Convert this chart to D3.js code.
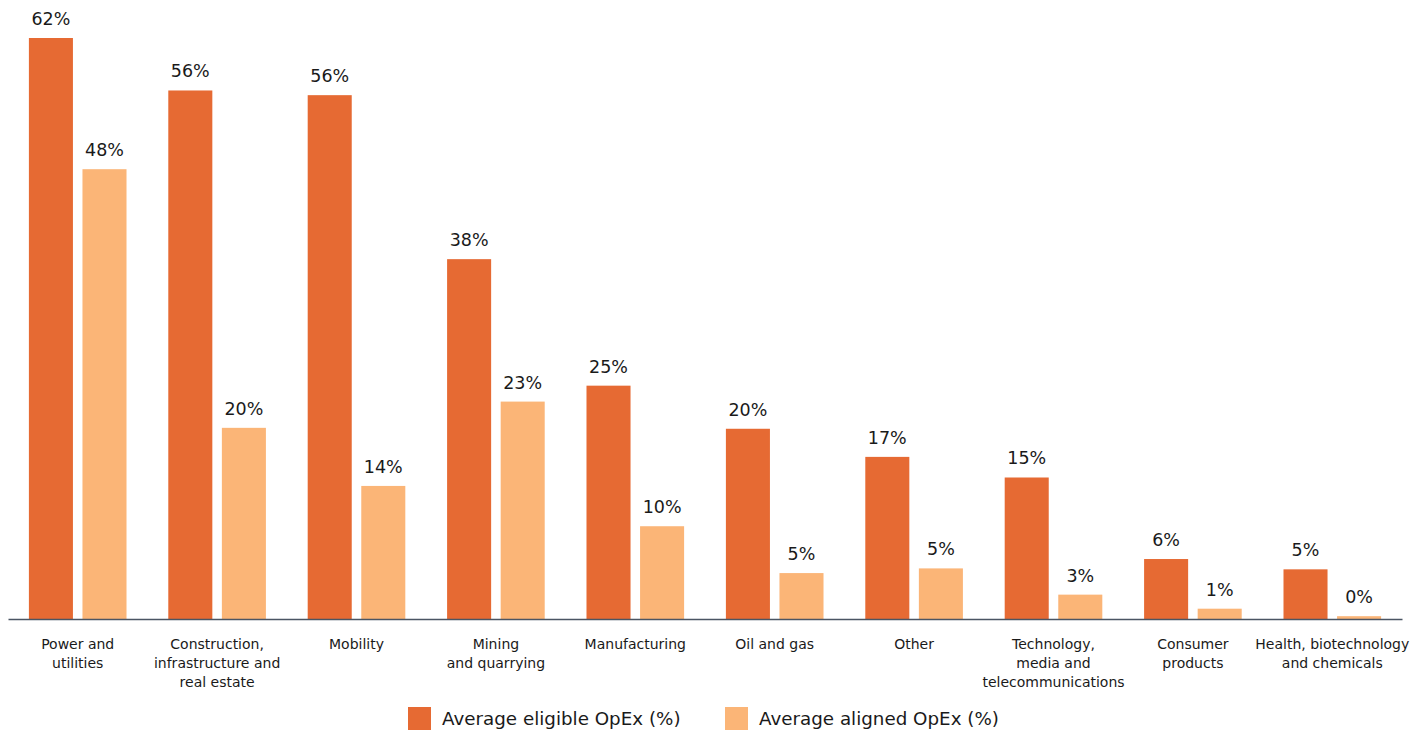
<!DOCTYPE html>
<html>
<head>
<meta charset="utf-8">
<script src="https://cdn.jsdelivr.net/npm/d3@7"></script>
<style>
  body { margin: 0; background: #fff; }
  svg { display: block; font-family: "DejaVu Sans", sans-serif; }
</style>
</head>
<body>
<div id="chart"></div>
<script>
// categories (line breaks as in the original labels)
var categories = [
  "Power and\nutilities",
  "Construction,\ninfrastructure and\nreal estate",
  "Mobility",
  "Mining\nand quarrying",
  "Manufacturing",
  "Oil and gas",
  "Other",
  "Technology,\nmedia and\ntelecommunications",
  "Consumer\nproducts",
  "Health, biotechnology\nand chemicals"
];
var eligible = [62, 56.4, 55.9, 38.4, 24.9, 20.3, 17.3, 15.1, 6.4, 5.3];
var aligned  = [48, 20.4, 14.2, 23.2, 9.9, 4.9, 5.4, 2.6, 1.1, 0.3];
var seriesNames = ["Average eligible OpEx (%)", "Average aligned OpEx (%)"];
var seriesColors = ["#e66a33", "#fbb577"];

var width = 1427, height = 736;
var baseY = 619;

var rows = categories.map((c, i) => ({cat: c, vals: [eligible[i], aligned[i]]}));

var svg = d3.select("#chart").append("svg")
    .attr("width", width)
    .attr("height", height);

var x0 = d3.scaleBand()
    .domain(categories)
    .range([8, 1402])
    .padding(0);

var x1 = d3.scaleBand()
    .domain([0, 1])
    .range([0, x0.bandwidth()])
    .paddingInner(0.178)
    .paddingOuter(0.39);

var y = d3.scaleLinear()
    .domain([0, 62])
    .range([baseY, 38]);

var fmt = v => d3.format(".0f")(v) + "%";

var groups = svg.append("g")
  .selectAll("g")
  .data(rows)
  .join("g")
    .attr("transform", d => `translate(${x0(d.cat)},0)`);

groups.selectAll("rect")
  .data(d => d.vals.map((v, k) => ({k: k, v: v})))
  .join("rect")
    .attr("x", d => x1(d.k))
    .attr("y", d => y(d.v))
    .attr("width", x1.bandwidth())
    .attr("height", d => baseY - y(d.v))
    .attr("fill", d => seriesColors[d.k]);

groups.selectAll("text.val")
  .data(d => d.vals.map((v, k) => ({k: k, v: v})))
  .join("text")
    .attr("class", "val")
    .attr("x", d => x1(d.k) + x1.bandwidth() / 2)
    .attr("y", d => y(d.v) - 13)
    .attr("text-anchor", "middle")
    .attr("font-size", 17.5)
    .attr("fill", "#1a1a1a")
    .text(d => fmt(d.v));

// x axis
var xAxis = d3.axisBottom(x0).tickSize(0).tickSizeOuter(0);
var axisG = svg.append("g")
    .attr("transform", `translate(0,${baseY})`)
    .call(xAxis);

axisG.select(".domain")
    .attr("stroke", "#4a5563")
    .attr("stroke-width", 1.5);

axisG.selectAll(".tick text").each(function(d) {
  var t = d3.select(this);
  var lines = d.split("\n");
  t.text(null)
    .attr("y", 30)
    .attr("dy", null)
    .attr("font-size", 14)
    .attr("font-family", "DejaVu Sans, sans-serif")
    .attr("fill", "#1a1a1a");
  lines.forEach((ln, i) => {
    t.append("tspan")
      .attr("x", 0)
      .attr("dy", i === 0 ? 0 : 19)
      .text(ln);
  });
});

// legend
var legendX = [408, 725];
var legend = svg.append("g")
  .selectAll("g")
  .data(seriesNames)
  .join("g")
    .attr("transform", (d, i) => `translate(${legendX[i]},707)`);

legend.append("rect")
    .attr("width", 23)
    .attr("height", 23)
    .attr("fill", (d, i) => seriesColors[i]);

legend.append("text")
    .attr("x", 34)
    .attr("y", 18)
    .attr("font-size", 18.3)
    .attr("fill", "#1a1a1a")
    .text(d => d);
</script>
</body>
</html>
